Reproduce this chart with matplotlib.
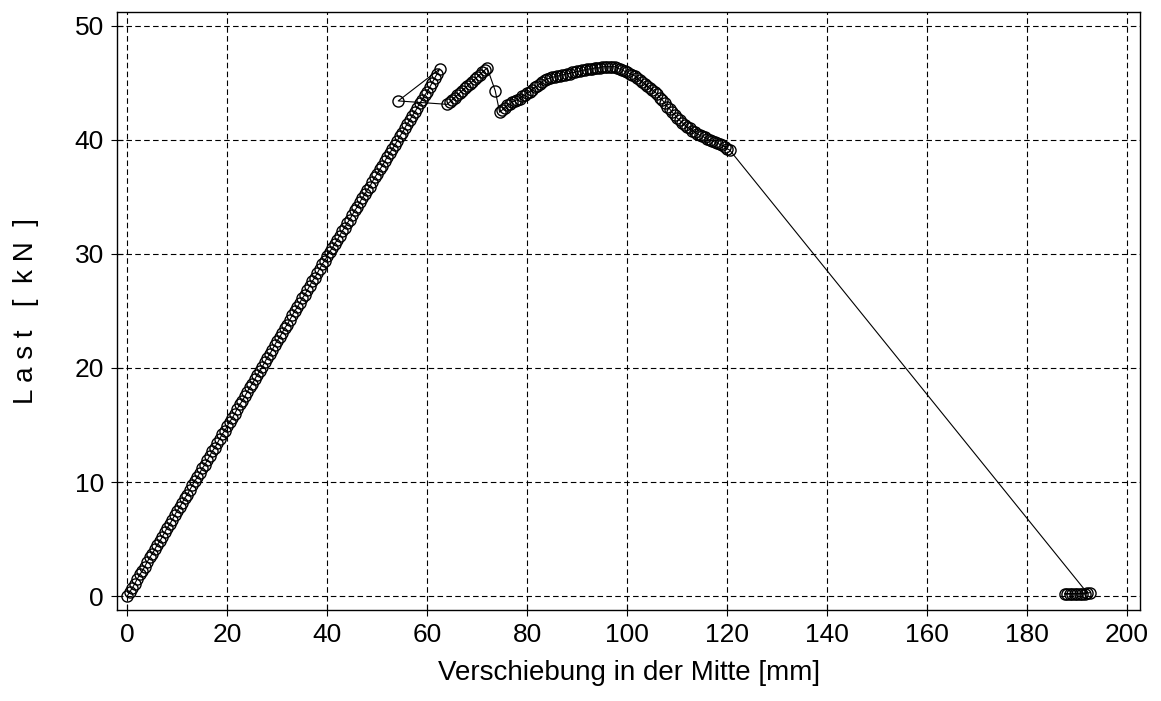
import matplotlib.pyplot as plt

# Messwerte: Verschiebung [mm] und Last [kN]
# Ast 1 - linearer Anstieg
x1 = [0.0, 0.5, 1.0, 1.5, 2.0, 2.5, 3.0, 3.5, 4.0, 4.5, 5.0, 5.5, 6.0, 6.5, 7.0, 7.5,
      8.0, 8.5, 9.0, 9.5, 10.0, 10.5, 11.0, 11.5, 12.0, 12.5, 13.0, 13.5, 14.0, 14.5,
      15.0, 15.5, 16.0, 16.5, 17.0, 17.5, 18.0, 18.5, 19.0, 19.5, 20.0, 20.5, 21.0,
      21.5, 22.0, 22.5, 23.0, 23.5, 24.0, 24.5, 25.0, 25.5, 26.0, 26.5, 27.0, 27.5,
      28.0, 28.5, 29.0, 29.5, 30.0, 30.5, 31.0, 31.5, 32.0, 32.5, 33.0, 33.5, 34.0,
      34.5, 35.0, 35.5, 36.0, 36.5, 37.0, 37.5, 38.0, 38.5, 39.0, 39.5, 40.0, 40.5,
      41.0, 41.5, 42.0, 42.5, 43.0, 43.5, 44.0, 44.5, 45.0, 45.5, 46.0, 46.5, 47.0,
      47.5, 48.0, 48.5, 49.0, 49.5, 50.0, 50.5, 51.0, 51.5, 52.0, 52.5, 53.0, 53.5,
      54.0, 54.5, 55.0, 55.5, 56.0, 56.5, 57.0, 57.5, 58.0, 58.5, 59.0, 59.5, 60.0,
      60.5, 61.0, 61.5, 62.0, 62.5]
y1 = [0.0, 0.4, 0.7, 1.1, 1.5, 1.9, 2.2, 2.6, 3.0, 3.4, 3.7, 4.1, 4.5, 4.8, 5.2, 5.6,
      6.0, 6.3, 6.7, 7.1, 7.5, 7.8, 8.2, 8.6, 8.9, 9.3, 9.7, 10.1, 10.4, 10.8,
      11.2, 11.5, 11.9, 12.3, 12.7, 13.0, 13.4, 13.8, 14.2, 14.5, 14.9, 15.3, 15.6,
      16.0, 16.4, 16.8, 17.1, 17.5, 17.9, 18.3, 18.6, 19.0, 19.4, 19.7, 20.1, 20.5,
      20.9, 21.2, 21.6, 22.0, 22.4, 22.7, 23.1, 23.5, 23.8, 24.2, 24.6, 25.0, 25.3,
      25.7, 26.1, 26.4, 26.8, 27.2, 27.6, 27.9, 28.3, 28.7, 29.1, 29.4, 29.8, 30.2,
      30.5, 30.9, 31.2, 31.6, 32.0, 32.3, 32.7, 33.0, 33.4, 33.8, 34.1, 34.5, 34.9,
      35.2, 35.6, 35.9, 36.3, 36.7, 37.0, 37.4, 37.7, 38.1, 38.5, 38.8, 39.2, 39.5,
      39.9, 40.3, 40.6, 41.0, 41.4, 41.7, 42.1, 42.4, 42.8, 43.2, 43.5, 43.9, 44.2,
      44.6, 45.0, 45.4, 45.8, 46.2]

# Ausreisser nach Ast 1
x_a = [54.2]
y_a = [43.4]

# Ast 2
x2 = [64.0, 64.5, 65.0, 65.5, 66.0, 66.5, 67.0, 67.5, 68.0, 68.5, 69.0, 69.5, 70.0,
      70.5, 71.0, 71.5, 72.0]
y2 = [43.1, 43.3, 43.5, 43.7, 43.9, 44.1, 44.3, 44.5, 44.7, 44.9, 45.1, 45.3, 45.5,
      45.7, 45.9, 46.1, 46.3]

# Ausreisser nach Ast 2
x_b = [73.6]
y_b = [44.3]

# Ast 3 - Hoechstlast und Abfall
x3 = [74.5, 75.0, 75.5, 76.0, 76.5, 77.0, 77.5, 78.0, 78.5, 79.0, 79.5, 80.0, 80.5,
      81.0, 81.5, 82.0, 82.5, 83.0, 83.5, 84.0, 84.5, 85.0, 85.5, 86.0, 86.5, 87.0,
      87.5, 88.0, 88.5, 89.0, 89.5, 90.0, 90.5, 91.0, 91.5, 92.0, 92.5, 93.0, 93.5,
      94.0, 94.5, 95.0, 95.5, 96.0, 96.5, 97.0, 97.5, 98.0, 98.5, 99.0, 99.5, 100.0,
      100.5, 101.0, 101.5, 102.0, 102.5, 103.0, 103.5, 104.0, 104.5, 105.0, 105.5,
      106.0, 106.5, 107.0, 107.5, 108.0, 108.5, 109.0, 109.5, 110.0, 110.5, 111.0,
      111.5, 112.0, 112.5, 113.0, 113.5, 114.0, 114.5, 115.0, 115.5, 116.0, 116.5,
      117.0, 117.5, 118.0, 118.5, 119.0, 119.5, 120.0, 120.5]
y3 = [42.4, 42.6, 42.8, 43.0, 43.1, 43.3, 43.4, 43.5, 43.6, 43.8, 43.9, 44.1, 44.2,
      44.4, 44.6, 44.7, 44.9, 45.1, 45.2, 45.3, 45.4, 45.5, 45.5, 45.6, 45.6, 45.7,
      45.7, 45.8, 45.8, 45.9, 45.9, 46.0, 46.0, 46.1, 46.1, 46.2, 46.2, 46.2, 46.3,
      46.3, 46.3, 46.4, 46.4, 46.4, 46.4, 46.4, 46.4, 46.3, 46.2, 46.1, 46.0, 45.9,
      45.8, 45.7, 45.6, 45.4, 45.2, 45.1, 44.9, 44.7, 44.5, 44.4, 44.2,
      44.0, 43.7, 43.5, 43.2, 42.9, 42.7, 42.4, 42.2, 41.9, 41.7, 41.5,
      41.3, 41.1, 41.0, 40.8, 40.7, 40.5, 40.4, 40.3, 40.2, 40.1, 40.0,
      39.9, 39.8, 39.7, 39.6, 39.5, 39.4, 39.2, 39.1]

# Bruch - Restlast
x4 = [192.0, 191.5, 191.0, 190.5, 190.0, 189.5, 189.0, 188.5, 188.0, 187.5, 192.5]
y4 = [0.3, 0.2, 0.2, 0.2, 0.2, 0.2, 0.2, 0.2, 0.2, 0.2, 0.3]

x = x1 + x_a + x2 + x_b + x3 + x4
y = y1 + y_a + y2 + y_b + y3 + y4

plt.rcParams['font.family'] = ['Liberation Sans', 'DejaVu Sans']

fig = plt.figure(figsize=(11.61, 7.01), dpi=100)
ax = fig.add_axes([0.101, 0.13, 0.881, 0.853])

ax.plot(x, y, color='black', linewidth=0.8, marker='o', markersize=8,
        markerfacecolor='none', markeredgecolor='black', markeredgewidth=1.0)

ax.set_xlim(-2, 202.6)
ax.set_ylim(-1.2, 51.2)
ax.set_xticks(range(0, 201, 20))
ax.set_yticks(range(0, 51, 10))
ax.grid(True, color='black', linestyle=(0, (5, 3)), linewidth=0.8)
ax.tick_params(direction='inout', length=9, width=0.8, labelsize=19, pad=5)
for s in ax.spines.values():
    s.set_linewidth(1.0)

ax.set_xlabel('Verschiebung in der Mitte [mm]', fontsize=20, labelpad=9)
ax.set_ylabel('L a s t   [  k N  ]', fontsize=20, labelpad=26)

fig.savefig('out.png', dpi=100)
